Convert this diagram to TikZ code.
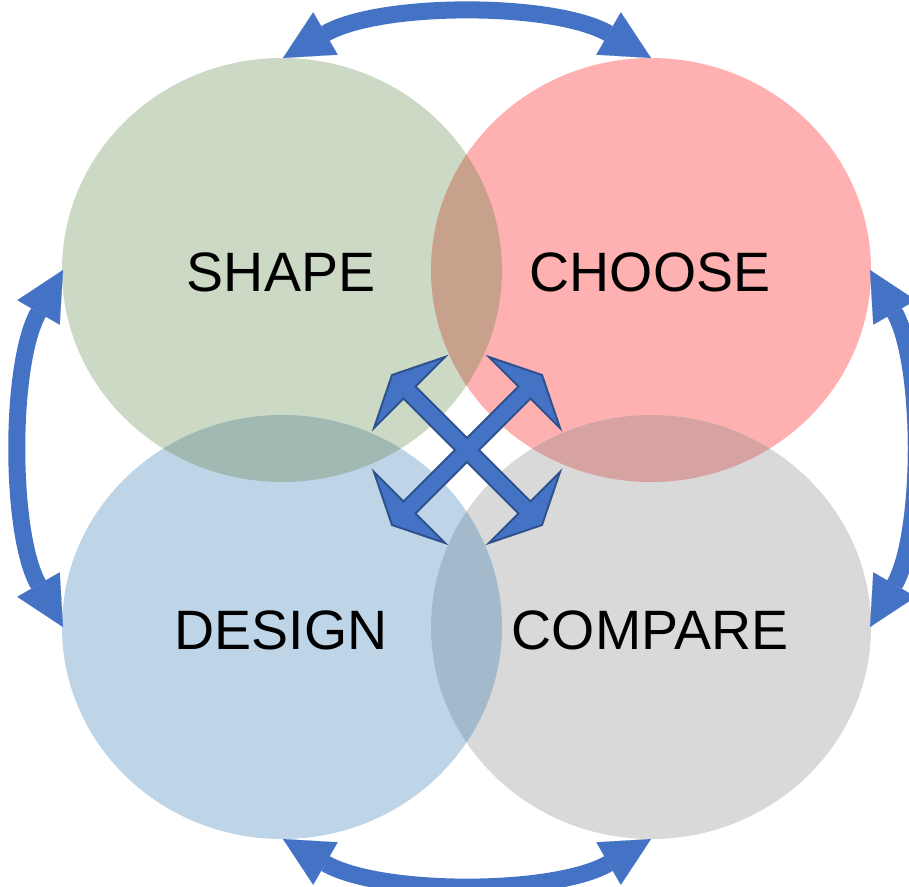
\documentclass[tikz,border=0pt]{standalone}
\usepackage{fontspec}
\setmainfont{Liberation Sans}
\usetikzlibrary{shapes.geometric,arrows.meta}
\definecolor{cShape}{HTML}{CCD9C5}
\definecolor{cChoose}{HTML}{FFB0B0}
\definecolor{cDesign}{HTML}{BED5E8}
\definecolor{cCompare}{HTML}{D9D9D9}
\definecolor{oSC}{HTML}{C8A18D}
\definecolor{oSD}{HTML}{A0B9B3}
\definecolor{oCC}{HTML}{D7A2A2}
\definecolor{oDC}{HTML}{A3B9CC}
\definecolor{arrowblue}{HTML}{4472C4}
\definecolor{arrowedge}{HTML}{2F528F}
\tikzset{
  blob/.style={shape=ellipse, minimum width=440pt, minimum height=424pt, inner sep=0pt,
    font=\fontsize{55.5}{60}\selectfont, text=black},
  bigarrow/.style={draw=arrowblue, line width=17pt,
    arrows={Triangle[length=49pt,width=49pt,line width=0.1pt]-Triangle[length=49pt,width=49pt,line width=0.1pt]}},
  crossarrow/.style={fill=arrowblue, draw=arrowedge, line width=2pt, line join=miter}
}
\begin{document}
\begin{tikzpicture}[x=1pt,y=-1pt]
\useasboundingbox (0,0) rectangle (909,886);
\fill[white] (0,0) rectangle (909,886);
% circles
\node[blob, fill=cShape] (shape) at (282,270) {};
\node[blob, fill=cChoose] (choose) at (651,270) {};
\node[blob, fill=cDesign] (design) at (282,627) {};
\node[blob, fill=cCompare] (compare) at (651,627) {};
% overlaps
\begin{scope}
  \clip (282,270) ellipse [x radius=220pt, y radius=212pt];
  \fill[oSC] (651,270) ellipse [x radius=220pt, y radius=212pt];
  \fill[oSD] (282,627) ellipse [x radius=220pt, y radius=212pt];
\end{scope}
\begin{scope}
  \clip (651,627) ellipse [x radius=220pt, y radius=212pt];
  \fill[oCC] (651,270) ellipse [x radius=220pt, y radius=212pt];
  \fill[oDC] (282,627) ellipse [x radius=220pt, y radius=212pt];
\end{scope}
% labels
\node[blob] (shapeT) at (281,272) {SHAPE};
\node[blob] (chooseT) at (650,272) {CHOOSE};
\node[blob] (designT) at (281,630) {DESIGN};
\node[blob] (compareT) at (650,630) {COMPARE};
% curved arrow end points
\coordinate (tl) at (283,58);
\coordinate (tr) at (651,58);
\coordinate (bl) at (283,839);
\coordinate (br) at (651,839);
\coordinate (lt) at (63,270);
\coordinate (lb) at (63,627);
\coordinate (rt) at (870,270);
\coordinate (rb) at (870,627);
\draw[bigarrow] (tl) .. controls (380,2) and (554,2) .. (tr);
\draw[bigarrow] (bl) .. controls (380,895) and (554,895) .. (br);
\draw[bigarrow] (lt) .. controls (9.5,362.7) and (9.5,534.3) .. (lb);
\draw[bigarrow] (rt) .. controls (923.5,362.7) and (923.5,534.3) .. (rb);
% central cross
\begin{scope}[shift={(467,450)}]
\draw[crossarrow] (0,-12) -- (51.5,-63.5) -- (22,-93) -- (75,-75) -- (93,-22) -- (63.5,-51.5)
  -- (12,0) -- (63.5,51.5) -- (93,22) -- (75,75) -- (22,93) -- (51.5,63.5)
  -- (0,12) -- (-51.5,63.5) -- (-22,93) -- (-75,75) -- (-93,22) -- (-63.5,51.5)
  -- (-12,0) -- (-63.5,-51.5) -- (-93,-22) -- (-75,-75) -- (-22,-93) -- (-51.5,-63.5) -- cycle;
\end{scope}
\end{tikzpicture}
\end{document}
